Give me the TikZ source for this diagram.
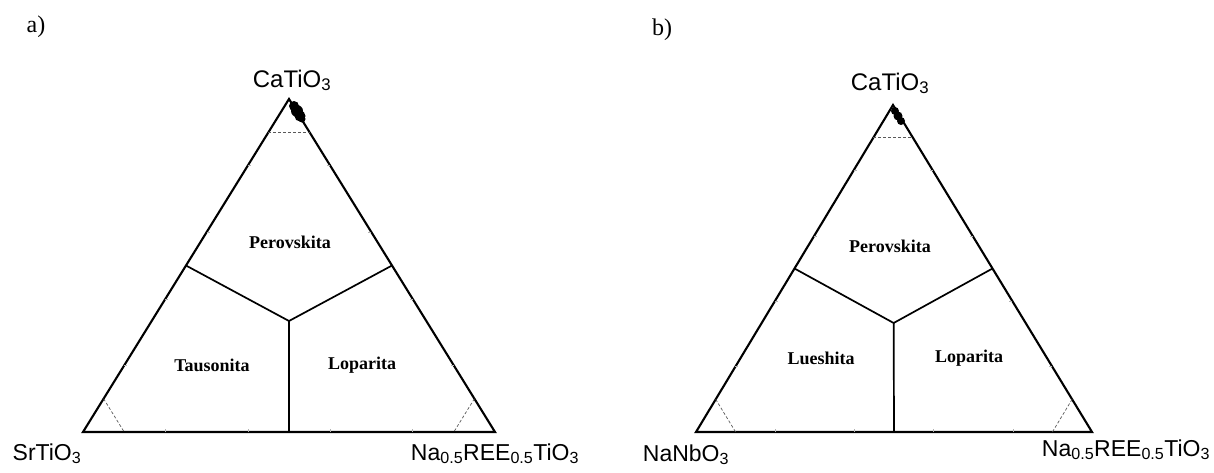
\documentclass[tikz,border=0pt]{standalone}
\usepackage{fontspec}
\setmainfont{Liberation Serif}
\newfontfamily\arialfont{Liberation Sans}
\usetikzlibrary{calc}

\tikzset{
    edge/.style={line width=2.1pt},
    inner/.style={line width=1.7pt},
    cutoff/.style={gray!70!black, dashed, dash pattern=on 3pt off 2pt, line width=0.7pt},
    tick/.style={gray!60, line width=0.6pt},
    endmember/.style={font=\arialfont\fontsize{23}{26}\selectfont, anchor=base, inner sep=0pt},
    apexlabel/.style={endmember, font=\arialfont\fontsize{24}{27}\selectfont},
    field/.style={font=\fontsize{18}{21}\selectfont\bfseries, inner sep=0pt},
    panel/.style={font=\fontsize{24}{28}\selectfont, inner sep=0pt}
}

\begin{document}
\begin{tikzpicture}[x=1pt, y=-1pt]

            \useasboundingbox (0,0) rectangle (1214,472);

            % Corners
            \coordinate (a-top) at (289,99);
            \coordinate (a-left) at (83,432);
            \coordinate (a-right) at (495,432);
            \coordinate (b-top) at (893,105);
            \coordinate (b-left) at (696,432);
            \coordinate (b-right) at (1092,432);

            \foreach \t in {a,b} {
                % Triangle
                \draw[edge] (\t-top) -- (\t-left) -- (\t-right) -- cycle;

                % Ticks
                \foreach \f in {0.2,0.4,0.6,0.8} {
                    \draw[tick] ($(\t-left)!\f!(\t-right)$) -- ++(0,-3);
                    \draw[tick] ($(\t-top)!\f!(\t-left)$) -- ++(3,0);
                    \draw[tick] ($(\t-top)!\f!(\t-right)$) -- ++(-3,0);
                }

                % Fields
                \coordinate (\t-mid) at (barycentric cs:\t-top=1,\t-left=1,\t-right=1);
                \draw[inner] ($(\t-top)!0.5!(\t-left)$) -- (\t-mid) -- ($(\t-top)!0.5!(\t-right)$);
                \draw[inner] (\t-mid) -- ($(\t-left)!0.5!(\t-right)$);

                % 10 % cut-offs
                \draw[cutoff] ($(\t-top)!0.1!(\t-left)$) -- ($(\t-top)!0.1!(\t-right)$);
                \draw[cutoff] ($(\t-left)!0.1!(\t-top)$) -- ($(\t-left)!0.1!(\t-right)$);
                \draw[cutoff] ($(\t-right)!0.1!(\t-top)$) -- ($(\t-right)!0.1!(\t-left)$);
            }

            % Analyses
            \foreach \x/\y/\r in {294/106/5, 297/111/6, 300/116/5.5, 302/119/3.5} {
                \fill (\x,\y) circle (\r);
            }
            \foreach \x/\y/\r in {895/111/4, 898/116/4.5, 901/121/4} {
                \fill (\x,\y) circle (\r);
            }

            % Panel labels
            \node[panel] (pa) at (36,27) {a)};
            \node[panel] (pb) at (662,30) {b)};

            % End members
            \node[apexlabel] (a-ca) at (292,87) {CaTiO\textsubscript{3}};
            \node[endmember] (a-sr) at (47,460) {SrTiO\textsubscript{3}};
            \node[endmember] (a-na) at (495,460) {Na\textsubscript{0.5}REE\textsubscript{0.5}TiO\textsubscript{3}};
            \node[apexlabel] (b-ca) at (890,90) {CaTiO\textsubscript{3}};
            \node[endmember] (b-nb) at (686,461) {NaNbO\textsubscript{3}};
            \node[endmember] (b-na) at (1126,456) {Na\textsubscript{0.5}REE\textsubscript{0.5}TiO\textsubscript{3}};

            % Field names
            \node[field] (a-per) at (290,242) {Perovskita};
            \node[field] (a-tau) at (212,365) {Tausonita};
            \node[field] (a-lop) at (362,365) {Loparita};
            \node[field] (b-per) at (890,246) {Perovskita};
            \node[field] (b-lue) at (821,358) {Lueshita};
            \node[field] (b-lop) at (969,358) {Loparita};

        \end{tikzpicture}
\end{document}
